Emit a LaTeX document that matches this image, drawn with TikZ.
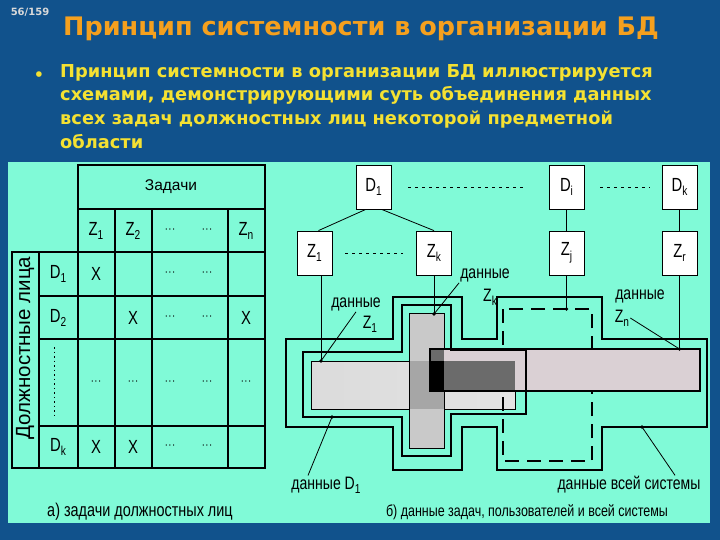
\documentclass[tikz,border=0pt]{standalone}
\usepackage{fontspec}
\setmainfont{Liberation Sans}
\newfontfamily\headfont{DejaVu Sans}
\newfontfamily\narrowfont[FakeStretch=0.78]{Liberation Sans}
\definecolor{bgblue}{RGB}{17,82,140}
\definecolor{panel}{RGB}{128,250,215}
\definecolor{titleor}{RGB}{245,160,30}
\definecolor{bullety}{RGB}{245,225,50}
\definecolor{zngray}{RGB}{218,208,212}
\newcommand{\lbl}[2]{#1\raisebox{-0.45ex}{\fontsize{13}{13}\selectfont #2}}

\begin{document}
\begin{tikzpicture}[x=1pt, y=-1pt,
	box/.style={draw, fill=white, line width=0.8pt, minimum width=35pt, minimum height=44pt, inner sep=0pt, font=\narrowfont\fontsize{19}{19}\selectfont},
	cell/.style={font=\narrowfont\fontsize{19}{19}\selectfont},
	dots/.style={font=\fontsize{11}{11}\selectfont},
	lab/.style={font=\narrowfont\fontsize{18}{18}\selectfont, inner sep=1pt},
	dot/.style={circle, fill=black, inner sep=1.3pt},
	grid/.style={line width=1.2pt},
	frame/.style={line width=1.9pt},
	dotline/.style={dash pattern=on 3pt off 4pt, line width=0.7pt},
	sysline/.style={line width=1.3pt},
	userline/.style={line width=2.4pt},
	dashbox/.style={dash pattern=on 14pt off 8pt, line width=1.8pt}]
	\useasboundingbox (0,0) rectangle (720,540);
	\fill[bgblue] (0,0) rectangle (720,540);
	
	% --- 1. заголовок ---
	\node[text=black!15, font=\headfont\bfseries\fontsize{10}{10}\selectfont] (num) at (30,12) {56/159};
	\node[text=titleor, font=\headfont\bfseries\fontsize{25.5}{25.5}\selectfont] (title) at (361,29) {Принцип системности в организации БД};
	\node[text=bullety, font=\headfont\bfseries\fontsize{16}{16}\selectfont] (bul) at (39,76) {•};
	\node[anchor=north west, inner sep=0pt, align=left, text=bullety, font=\headfont\bfseries\fontsize{17.8}{23.7}\selectfont] (txt) at (60,64)
		{Принцип системности в организации БД иллюстрируется\\
		 схемами, демонстрирующими суть объединения данных\\
		 всех задач должностных лиц некоторой предметной\\
		 области};
	\fill[panel] (8,162) rectangle (710,523);
	
	% --- 2. а) таблица ---
	\draw[frame] (78,165) rectangle (265,252);
	\draw[grid] (78,209) -- (265,209);
	\foreach \x in {115,152,228} \draw[grid] (\x,209) -- (\x,252);
	\draw[frame] (12,252) rectangle (265,468);
	\draw[frame] (78,252) -- (78,468);
	\foreach \x in {39,115,152,228} \draw[grid] (\x,252) -- (\x,468);
	\foreach \y in {296,339,426} \draw[grid] (39,\y) -- (265,\y);
	\draw[dash pattern=on 1.5pt off 3pt, line width=0.7pt] (54,347) -- (54,415);
	
	\node[font=\fontsize{15.5}{15.5}\selectfont] (tasks) at (171,187) {Задачи};
	\node[rotate=90, font=\fontsize{20.5}{20.5}\selectfont] (staff) at (25,348) {Должностные лица};
	\node[cell] (tz1) at (96,231) {\lbl{Z}{1}};
	\node[cell] (tz2) at (133,231) {\lbl{Z}{2}};
	\node[cell] (tzn) at (246,231) {\lbl{Z}{n}};
	\node[cell] (td1) at (58,274) {\lbl{D}{1}};
	\node[cell] (td2) at (58,318) {\lbl{D}{2}};
	\node[cell] (tdk) at (58,447) {\lbl{D}{k}};
	\node[cell] (x11) at (96,274) {X};
	\node[cell] (x22) at (133,318) {X};
	\node[cell] (x2n) at (246,318) {X};
	\node[cell] (xk1) at (96,447) {X};
	\node[cell] (xk2) at (133,447) {X};
	\foreach \y in {231,274,318,447} {
		\node[dots] at (170,\y) {···};
		\node[dots] at (207,\y) {···};
	}
	\foreach \x in {96,133,170,207,246} \node[dots] at (\x,383) {···};
	\node[lab, font=\narrowfont\fontsize{18.5}{18.5}\selectfont] (capa) at (140,512) {а) задачи должностных лиц};
	
	% --- 3. б) должностные лица и задачи ---
	\node[box] (d1) at (373.5,187) {\lbl{D}{1}};
	\node[box] (di) at (566.5,187) {\lbl{D}{i}};
	\node[box] (dk) at (679.5,187) {\lbl{D}{k}};
	\node[box] (z1) at (314.5,253) {\lbl{Z}{1}};
	\node[box] (zk) at (434,253) {\lbl{Z}{k}};
	\node[box] (zj) at (566.5,253) {\lbl{Z}{j}};
	\node[box] (zr) at (679.5,253) {\lbl{Z}{r}};
	\draw[dotline] ([xshift=17pt]d1.east) -- ([xshift=-22pt]di.west);
	\draw[dotline] ([xshift=16pt]di.east) -- ([xshift=-12pt]dk.west);
	\draw[dotline] ([xshift=13pt]z1.east) -- ([xshift=-13pt]zk.west);
	\draw[line width=0.8pt] (d1.-109) -- (z1.80);
	\draw[line width=0.8pt] (d1.-70) -- (zk.north);
	\draw[line width=0.8pt] (di.south) -- (zj.north);
	\draw[line width=0.8pt] (dk.south) -- (zr.north);
	
	% --- 4. области данных ---
	% данные всей системы
	\draw[sysline] (393,297) -- (462,297) -- (462,339) -- (497,339) -- (497,297) -- (602,297) -- (602,339) -- (707,339)
		-- (707,427) -- (602,427) -- (602,470) -- (497,470) -- (497,427) -- (462,427) -- (462,470) -- (393,470)
		-- (393,427) -- (286,427) -- (286,339) -- (393,339) -- cycle;
	% данные Z1 и Zk
	\shade[left color=gray!28, middle color=white, right color=gray!22] (311,361) rectangle (515,409);
	\draw[line width=0.6pt] (311,361) rectangle (515,409);
	\fill[gray!42] (409,313) rectangle (444,448);
	\fill[gray!70] (409,361) rectangle (444,409);
	\draw[line width=0.6pt] (409,313) rectangle (444,448);
	% данные Di
	\draw[dashbox] (503,309) rectangle (592,461);
	% данные Zn
	\fill[zngray] (430,349) rectangle (700,391);
	\fill[black!58] (430,349) rectangle (515,391);
	\fill[zngray] (444,349) rectangle (515,361);
	\fill[black] (430,361) rectangle (444,391);
	\draw[line width=2pt] (430,349) rectangle (700,391);
	% данные D1
	\draw[userline] (402,305) -- (451,305) -- (451,350) -- (526,350) -- (526,414) -- (451,414) -- (451,456)
		-- (402,456) -- (402,417) -- (303,417) -- (303,352) -- (402,352) -- cycle;
	
	% --- 5. выноски ---
	\coordinate (p1) at (z1.-74 |- 0,361);
	\coordinate (pk) at (zk.south |- 0,314);
	\coordinate (pj) at (zj.south |- 0,309);
	\coordinate (pr) at (zr.south |- 0,349);
	\coordinate (pd) at (332,417);
	\coordinate (ps) at (642,427);
	\draw[line width=0.8pt] (z1.-74) -- (p1);
	\draw[line width=0.8pt] (zk.south) -- (pk);
	\draw[line width=0.8pt] (zj.south) -- (pj);
	\draw[line width=0.8pt] (zr.south) -- (pr);
	
	\node[lab] (lz1) at (356,304) {данные};
	\node[lab] (lz1z) at (370,324) {\lbl{Z}{1}};
	\node[lab] (lzk) at (485,275) {данные};
	\node[lab] (lzkz) at (490,297) {\lbl{Z}{k}};
	\node[lab] (lzn) at (640,296) {данные};
	\node[lab] (lznz) at (622,318) {\lbl{Z}{n}};
	\node[lab] (ld1) at (326,485) {данные \lbl{D}{1}};
	\node[lab] (lsys) at (629,485) {данные всей системы};
	\node[lab, font=\narrowfont\fontsize{16}{16}\selectfont] (capb) at (527,512) {б) данные задач, пользователей и всей системы};
	
	\draw[line width=0.8pt] (lz1.south) -- (p1);
	\draw[line width=0.8pt] (lzk.south west) -- (pk);
	\draw[line width=0.8pt] (lznz.east) -- (pr);
	\draw[line width=0.8pt] ([xshift=-18pt]ld1.north) -- (pd);
	\draw[line width=0.8pt] ([xshift=46pt]lsys.north) -- (ps);
	\foreach \p in {p1,pk,pj,pr,pd,ps} \node[dot] at (\p) {};
\end{tikzpicture}
\end{document}
